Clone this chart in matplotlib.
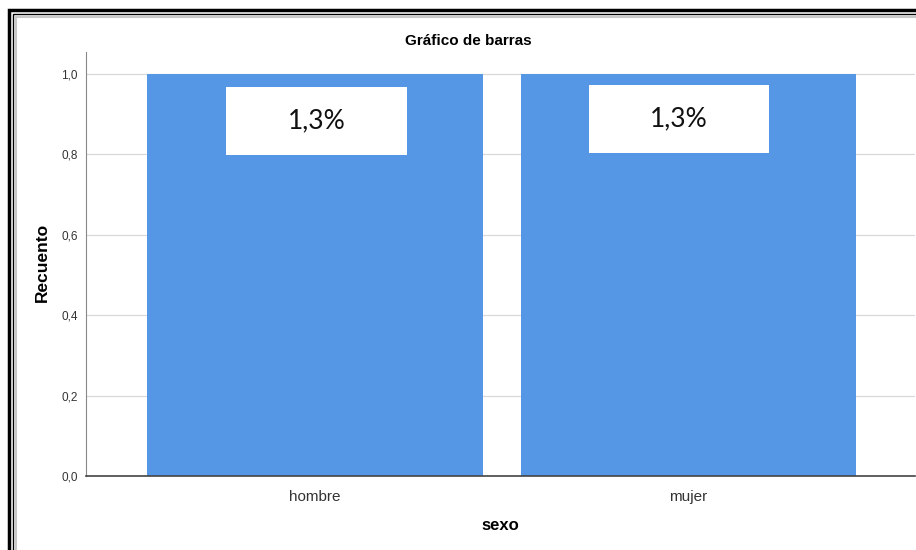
import matplotlib
matplotlib.use("Agg")
import matplotlib.pyplot as plt
from matplotlib.patches import Rectangle

# datos
categorias = ["hombre", "mujer"]
recuento = [1.0, 1.0]
etiquetas = ["1,3%", "1,3%"]
yticks = [0.0, 0.2, 0.4, 0.6, 0.8, 1.0]

AZUL = "#5597e4"
plt.rcParams["font.family"] = ["Liberation Sans", "DejaVu Sans"]

fig = plt.figure(figsize=(9.16, 5.5), dpi=100)
ax = fig.add_axes([86/916, 1-476/550, 829/916, 424/550])

x = range(len(categorias))
ancho = 0.898
ax.bar(x, recuento, width=ancho, color=AZUL, zorder=2)

# cajas blancas con el porcentaje
offs = [0.004, -0.025]
ycent = [0.883, 0.888]
bw, bh = 0.483, 0.169
for i, txt in enumerate(etiquetas):
    cx = i + offs[i]
    ax.add_patch(Rectangle((cx - bw/2, ycent[i] - bh/2), bw, bh,
                           facecolor="white", edgecolor="none", zorder=3))
    ax.text(cx, ycent[i], txt, ha="center", va="center", fontsize=19,
            family=["Lato", "DejaVu Sans"], color="#111111", zorder=4)

ax.set_xlim(-0.613, 1.607)
ax.set_ylim(0, 1.055)
ax.set_xticks(list(x))
ax.set_xticklabels(categorias, fontsize=11, color="#333333")
ax.set_yticks(yticks)
ax.set_yticklabels([f"{v:.1f}".replace(".", ",") for v in yticks],
                   fontsize=8.5, color="#333333")
ax.tick_params(length=0, pad=6)
ax.tick_params(axis="x", pad=10)
ax.grid(axis="y", color="#d9d9d9", lw=0.9, zorder=0)
ax.set_axisbelow(True)
for s in ["top", "right"]:
    ax.spines[s].set_visible(False)
ax.spines["left"].set_color("#888888")
ax.spines["bottom"].set_color("#444444")
ax.spines["bottom"].set_linewidth(1.2)
ax.spines["bottom"].set_zorder(5)

fig.text(468/916, 1-41/550, "Gráfico de barras", ha="center", va="center",
         fontsize=11, fontweight="bold")
fig.text(42/916, 1-262/550, "Recuento", rotation=90, ha="center", va="center",
         fontsize=12.5, fontweight="bold")
fig.text(500/916, 1-525/550, "sexo", ha="center", va="center",
         fontsize=12, fontweight="bold")

# marco negro doble alrededor de la figura, con sombra gris
fig.patches.append(Rectangle((9/916, -0.2), 1.2, 1.2 - 10/550,
                             transform=fig.transFigure, fill=False,
                             edgecolor="black", lw=2.5))
fig.patches.append(Rectangle((13/916, -0.2), 1.2, 1.2 - 14/550,
                             transform=fig.transFigure, fill=False,
                             edgecolor="black", lw=1.0))
fig.patches.append(Rectangle((15.5/916, -0.2), 1.2, 1.2 - 16.5/550,
                             transform=fig.transFigure, fill=False,
                             edgecolor="#c8c8c8", lw=1.5))

fig.savefig("out.png", dpi=100)
